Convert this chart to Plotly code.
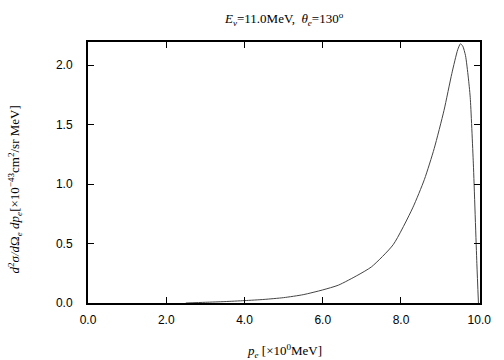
import plotly.graph_objects as go

p_e = [2.5, 3.0, 3.5, 4.0, 4.5, 5.0, 5.5, 6.0, 6.4, 6.9, 7.25, 7.8, 8.3, 8.6, 8.85, 9.1, 9.3, 9.45, 9.52, 9.58, 9.65, 9.72, 9.77, 9.85, 9.94, 9.98]
xsec = [0.0, 0.006, 0.012, 0.02, 0.03, 0.045, 0.07, 0.11, 0.15, 0.235, 0.305, 0.49, 0.80, 1.04, 1.30, 1.62, 1.93, 2.13, 2.18, 2.16, 2.08, 1.90, 1.73, 1.17, 0.33, 0.0]

x_ticks = [0, 2, 4, 6, 8, 10]
x_tick_labels = ["0.0", "2.0", "4.0", "6.0", "8.0", "10.0"]
y_ticks = [0, 0.5, 1.0, 1.5, 2.0]
y_tick_labels = ["0.0", "0.5", "1.0", "1.5", "2.0"]

title_text = "<i>E<sub>ν</sub></i>=11.0MeV,  <i>θ<sub>e</sub></i>=130<sup>o</sup>"
x_label = "<i>p<sub>e</sub></i> [×10<sup>0</sup>MeV]"
y_label = "<i>d</i><sup>2</sup><i>σ/d</i>Ω<sub><i>e</i></sub> <i>dp<sub>e</sub></i>[×10<sup>−43</sup>cm<sup>2</sup>/sr MeV]"

serif = "Liberation Serif, Times New Roman, serif"

fig = go.Figure()
fig.add_trace(go.Scatter(x=p_e, y=xsec, mode="lines",
                         line=dict(color="#444444", width=1, shape="spline", smoothing=0.6),
                         showlegend=False, hoverinfo="skip"))

axis_common = dict(showgrid=False, zeroline=False, showline=True, linecolor="black", linewidth=2,
                   mirror="ticks", ticks="inside", ticklen=6, tickwidth=1, tickcolor="black",
                   tickfont=dict(family="Liberation Sans, Arial, sans-serif", size=12, color="black"))

fig.update_layout(
    width=504, height=360,
    margin=dict(l=88, r=24, t=42, b=57),
    paper_bgcolor="white", plot_bgcolor="white",
    xaxis=dict(range=[0, 10.02], tickvals=x_ticks, ticktext=x_tick_labels, ticklabelstandoff=5, **axis_common),
    yaxis=dict(range=[0, 2.195], tickvals=y_ticks, ticktext=y_tick_labels, ticklabelstandoff=11, **axis_common),
    annotations=[
        dict(text=title_text, x=0.5, y=1, xref="paper", yref="paper", yshift=23, xanchor="center", yanchor="middle",
             showarrow=False, font=dict(family=serif, size=13, color="black")),
        dict(text=x_label, x=0.5, y=0, xref="paper", yref="paper", yshift=-48, xanchor="center", yanchor="middle",
             showarrow=False, font=dict(family=serif, size=13, color="black")),
        dict(text=y_label, x=0, y=0.435, xref="paper", yref="paper", xshift=-73, xanchor="center", yanchor="middle",
             textangle=-90, showarrow=False, font=dict(family=serif, size=13, color="black")),
    ],
)

fig.write_html("out.html", config={"displayModeBar": False},
               post_script="document.body.style.margin='0px';document.body.style.overflow='hidden';")
